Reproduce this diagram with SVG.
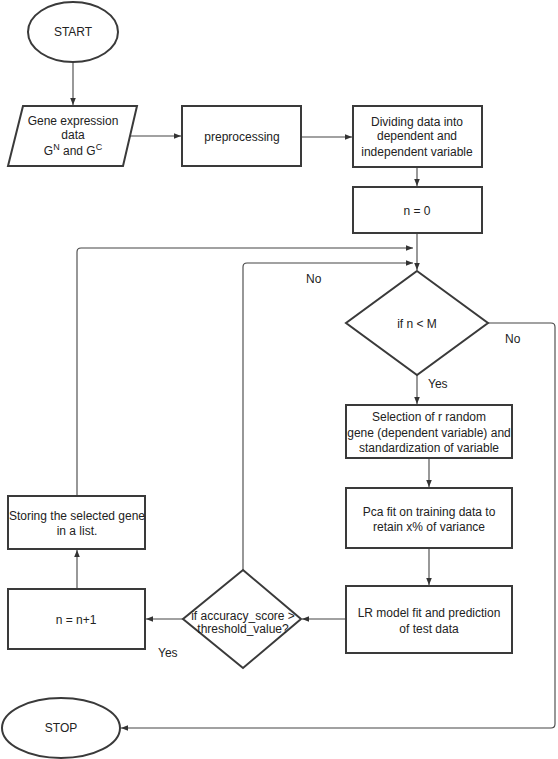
<svg xmlns="http://www.w3.org/2000/svg" width="558" height="759" viewBox="0 0 558 759">
<style>
.n{fill:#fff;stroke:#3a3a3a;stroke-width:2}
.t{font-family:"Liberation Sans",Arial,sans-serif;font-size:12px;fill:#222;text-anchor:middle}
.c{fill:none;stroke:#444;stroke-width:1.1}
.l{font-family:"Liberation Sans",Arial,sans-serif;font-size:12px;fill:#222}
</style>
<defs>
<marker id="a" viewBox="0 0 10 10" refX="10" refY="5" markerWidth="7" markerHeight="7" orient="auto" markerUnits="userSpaceOnUse">
<path d="M0,1 L10,5 L0,9 z" fill="#333"/>
</marker>
</defs>
<rect width="558" height="759" fill="#fff"/>
<g id="connectors">
<line class="c" x1="73" y1="62" x2="73" y2="105" marker-end="url(#a)"/>
<line class="c" x1="130" y1="136" x2="181" y2="136" marker-end="url(#a)"/>
<line class="c" x1="301" y1="137" x2="352" y2="137" marker-end="url(#a)"/>
<line class="c" x1="417" y1="167" x2="417" y2="186" marker-end="url(#a)"/>
<line class="c" x1="417" y1="233" x2="417" y2="270" marker-end="url(#a)"/>
<path class="c" d="M77,496 V252 Q77,248 81,248 H413" marker-end="url(#a)"/>
<path class="c" d="M243,570 V267 Q243,263 247,263 H413" marker-end="url(#a)"/>
<path class="c" d="M488,323 H551 Q555,323 555,327 V724 Q555,728 551,728 H121" marker-end="url(#a)"/>
<line class="c" x1="417" y1="375" x2="417" y2="404" marker-end="url(#a)"/>
<line class="c" x1="429" y1="458" x2="429" y2="487" marker-end="url(#a)"/>
<line class="c" x1="429" y1="548" x2="429" y2="585" marker-end="url(#a)"/>
<line class="c" x1="346" y1="619" x2="302" y2="619" marker-end="url(#a)"/>
<line class="c" x1="183" y1="619" x2="146" y2="619" marker-end="url(#a)"/>
<line class="c" x1="77" y1="589" x2="77" y2="550" marker-end="url(#a)"/>
<text class="l" x="306" y="283">No</text>
<text class="l" x="505" y="343">No</text>
<text class="l" x="428" y="388">Yes</text>
<text class="l" x="158" y="657">Yes</text>
</g>
<g id="start">
<ellipse class="n" cx="73" cy="32" rx="45" ry="30"/>
<text class="t" x="73" y="36">START</text>
</g>
<g id="gene-data">
<polygon class="n" points="23,106 137,106 123,166 8,166"/>
<text class="t" x="73" y="125">Gene expression</text>
<text class="t" x="73" y="139">data</text>
<text class="t" x="73" y="155">G<tspan font-size="9" dy="-5">N</tspan><tspan dy="5"> and G</tspan><tspan font-size="9" dy="-5">C</tspan></text>
</g>
<g id="preprocessing">
<rect class="n" x="182" y="106" width="119" height="60"/>
<text class="t" x="242" y="141">preprocessing</text>
</g>
<g id="dividing">
<rect class="n" x="353" y="106" width="129" height="61"/>
<text class="t" x="417" y="126">Dividing data into</text>
<text class="t" x="417" y="140">dependent and</text>
<text class="t" x="417" y="156">independent variable</text>
</g>
<g id="n0">
<rect class="n" x="353" y="187" width="129" height="46"/>
<text class="t" x="417" y="215">n = 0</text>
</g>
<g id="if-n-m">
<polygon class="n" points="417,271 488,323 417,375 346,323"/>
<text class="t" x="417" y="328">if n &lt; M</text>
</g>
<g id="selection">
<rect class="n" x="346" y="405" width="166" height="53"/>
<text class="t" x="429" y="421">Selection of r random</text>
<text class="t" x="429" y="437">gene (dependent variable) and</text>
<text class="t" x="429" y="452">standardization of variable</text>
</g>
<g id="pca">
<rect class="n" x="346" y="488" width="166" height="60"/>
<text class="t" x="429" y="516">Pca fit on training data to</text>
<text class="t" x="429" y="531">retain x% of variance</text>
</g>
<g id="lr">
<rect class="n" x="346" y="586" width="166" height="67"/>
<text class="t" x="429" y="617">LR model fit and prediction</text>
<text class="t" x="429" y="633">of test data</text>
</g>
<g id="if-accuracy">
<polygon class="n" points="243,570 301,619 243,668 183,619"/>
<text class="t" x="243" y="620" font-size="11.5">if accuracy_score &gt;</text>
<text class="t" x="243" y="633" font-size="11.5">threshold_value?</text>
</g>
<g id="increment">
<rect class="n" x="8" y="589" width="137" height="60"/>
<text class="t" x="76" y="624">n = n+1</text>
</g>
<g id="storing">
<rect class="n" x="8" y="496" width="137" height="53"/>
<text class="t" x="77" y="520">Storing the selected gene</text>
<text class="t" x="77" y="535">in a list.</text>
</g>
<g id="stop">
<ellipse class="n" cx="61" cy="728" rx="59" ry="30"/>
<text class="t" x="61" y="732">STOP</text>
</g>
</svg>
